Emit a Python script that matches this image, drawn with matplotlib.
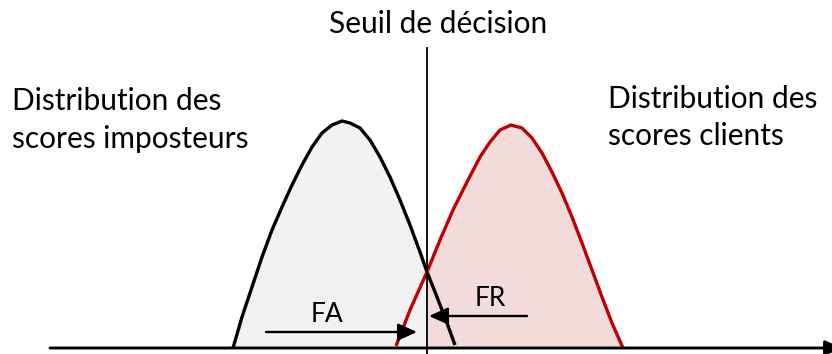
import matplotlib
matplotlib.use("Agg")
import matplotlib.pyplot as plt
from matplotlib.patches import FancyArrowPatch

# ---- data (score, density) ----
impostor_score = [233, 242, 252, 262, 272, 282, 292, 302, 312, 322, 332, 342,
                  350, 360, 370, 380, 390, 400, 410, 420, 427, 437, 447, 455]
impostor_density = [0, 31, 61, 91, 118, 141, 163, 183, 201, 215, 223, 227,
                    225, 220, 208, 191, 171, 148, 123, 96, 76, 51, 25, 3]

client_score = [396, 410, 427, 440, 453, 467, 480, 490, 500, 511, 522, 532,
                542, 552, 562, 572, 582, 592, 602, 612, 623]
client_density = [2, 38, 76, 108, 138, 166, 191, 206, 218, 223, 220, 210,
                  195, 176, 155, 131, 105, 78, 51, 25, 0]

threshold = 427
threshold_top = 300
axis_start, axis_end = 50, 842

fa_arrow = (266, 417, 16)   # from, to, level
fr_arrow = (527, 429, 32)

title_text = "Seuil de décision"
left_label = ["Distribution des", "scores imposteurs"]
right_label = ["Distribution des", "scores clients"]
fa_label = "FA"
fr_label = "FR"

RED = "#c00000"
GRAY_FILL = "#f2f2f2"
PINK_FILL = "#f2dcdb"

plt.rcParams['font.family'] = ['Lato', 'DejaVu Sans']

fig = plt.figure(figsize=(8.32, 3.54), dpi=100)
ax = fig.add_axes([0, 0, 1, 1])
ax.set_xlim(0, 832)
ax.set_ylim(-6, 348)
ax.axis('off')

# fills
ax.fill_between(impostor_score, 0, impostor_density, color=GRAY_FILL, lw=0, zorder=1)
cs = [s for s in client_score if s >= threshold]
cd = [d for s, d in zip(client_score, client_density) if s >= threshold]
ax.fill_between(cs, 0, cd, color=PINK_FILL, lw=0, zorder=1)

# curves
ax.plot(impostor_score, impostor_density, color='black', lw=2.4,
        solid_capstyle='butt', solid_joinstyle='round', zorder=3)
ax.plot(client_score, client_density, color=RED, lw=2.4,
        solid_capstyle='butt', solid_joinstyle='round', zorder=4)

# threshold line
ax.plot([threshold, threshold], [threshold_top, -6], color='black', lw=1.3, zorder=5)

# x axis with arrow
ax.add_patch(FancyArrowPatch((axis_start, 0), (axis_end, 0),
                             arrowstyle='-|>,head_length=1.0,head_width=0.45',
                             mutation_scale=10, lw=2.1, color='black',
                             shrinkA=0, shrinkB=0, zorder=6, clip_on=False))

# FA / FR arrows
for a, b, lev in (fa_arrow, fr_arrow):
    ax.add_patch(FancyArrowPatch((a, lev), (b, lev),
                                 arrowstyle='-|>,head_length=1.15,head_width=0.52',
                                 mutation_scale=10, lw=1.7, color='black',
                                 shrinkA=0, shrinkB=0, zorder=7))

fs = 21.5
ax.text(438, 348 - 33, title_text, ha='center', va='baseline', fontsize=fs)
ax.text(12, 348 - 110, left_label[0], ha='left', va='baseline', fontsize=fs)
ax.text(12, 348 - 148, left_label[1], ha='left', va='baseline', fontsize=fs)
ax.text(608, 348 - 108, right_label[0], ha='left', va='baseline', fontsize=fs)
ax.text(608, 348 - 145, right_label[1], ha='left', va='baseline', fontsize=fs)
ax.text(327, 348 - 322.5, fa_label, ha='center', va='baseline', fontsize=19)
ax.text(490, 348 - 306.5, fr_label, ha='center', va='baseline', fontsize=19)

fig.savefig("out.png", dpi=100)
